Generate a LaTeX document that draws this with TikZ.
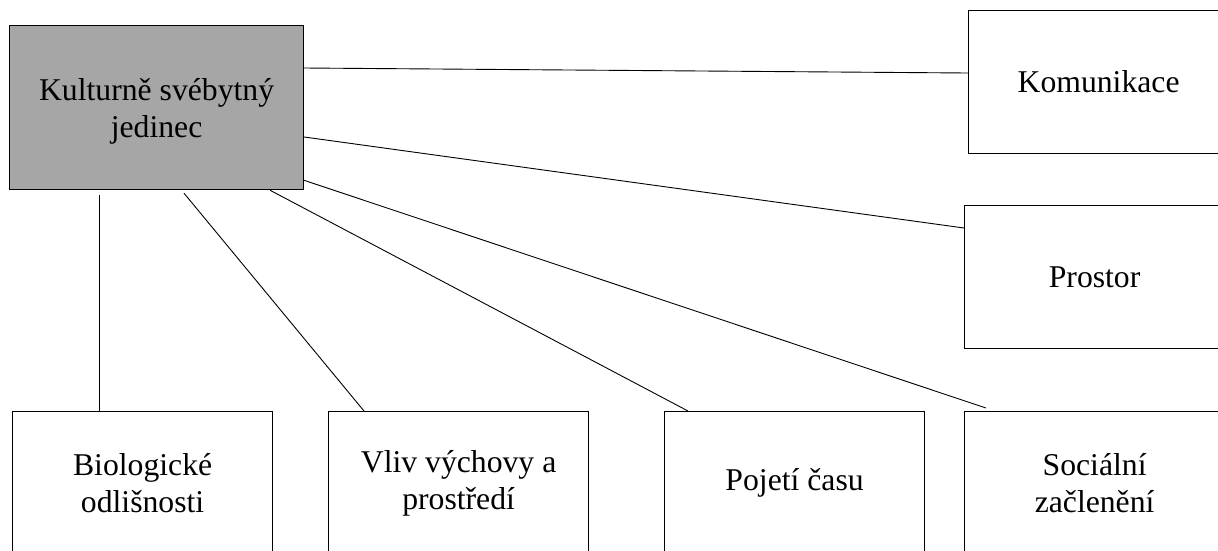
\documentclass[tikz,border=0pt]{standalone}
\usepackage{fontspec}
\setmainfont{Liberation Serif}
\usetikzlibrary{calc}
\definecolor{boxgrey}{HTML}{A6A6A6}
\begin{document}
\begin{tikzpicture}[x=1pt,y=-1pt,
  txt/.style={align=center, font=\fontsize{31.7}{37}\selectfont, inner sep=0pt},
  box/.style={txt, draw=black, line width=1.2pt, minimum width=260pt, minimum height=143pt,
    anchor=north west},
  link/.style={draw=black, line width=0.9pt}]
\useasboundingbox (0,0) rectangle (1218,550);
\clip (0,0) rectangle (1218,550);
\node[box, fill=boxgrey, minimum width=294pt, minimum height=164pt] (main) at (9,25) {};
\node[txt] (maintext) at ($(main.center)+(0,4)$) {Kulturně svébytný\\jedinec};
\node[box] (kom) at (968,10) {Komunikace};
\node[box] (pro) at (964,205) {Prostor};
\node[box] (bio) at (12,411) {Biologické\\odlišnosti};
\node[box] (vliv) at (328,411) {Vliv výchovy a\\prostředí};
\node[box] (poj) at (664,411) {Pojetí času};
\node[box] (soc) at (964,411) {Sociální\\začlenění};
\draw[link] ($(main.north east)+(0,43)$) -- ($(kom.north west)+(0,63)$);
\draw[link] ($(main.north east)+(0,112)$) -- ($(pro.north west)+(0,23)$);
\draw[link] ($(main.north east)+(-1,155)$) -- ($(soc.north west)+(22,-3)$);
\draw[link] ($(main.south west)+(261,0)$) -- ($(poj.north west)+(24,0)$);
\draw[link] ($(main.south west)+(175,3)$) -- ($(vliv.north west)+(36,0)$);
\draw[link] ($(main.south west)+(90,5)$) -- ($(bio.north west)+(87,0)$);
\end{tikzpicture}
\end{document}
